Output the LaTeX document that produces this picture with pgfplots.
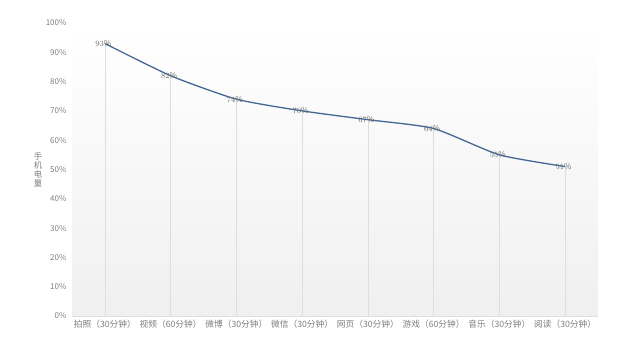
\documentclass[border=0pt]{standalone}
\usepackage{fontspec}
\setmainfont{Noto Sans CJK SC}
\usepackage{pgfplots}
\pgfplotsset{compat=1.18}
\definecolor{lineblue}{RGB}{68,104,148}
\definecolor{txtgray}{RGB}{125,125,125}
\definecolor{lblgray}{RGB}{105,105,105}
\definecolor{gridgray}{RGB}{222,222,222}
\begin{document}
\begin{tikzpicture}
\begin{axis}[
  scale only axis,
  width=526pt, height=293pt,
  xmin=-0.5, xmax=7.5, ymin=0, ymax=100,
  xtick={0,...,7},
  xticklabels={拍照（30分钟）,视频（60分钟）,微博（30分钟）,微信（30分钟）,网页（30分钟）,游戏（60分钟）,音乐（30分钟）,阅读（30分钟）},
  ytick={0,10,...,100},
  yticklabels={0\%,10\%,20\%,30\%,40\%,50\%,60\%,70\%,80\%,90\%,100\%},
  tick label style={font=\fontsize{8}{9}\selectfont, text=txtgray},
  xticklabel style={font=\fontsize{8.7}{9}\selectfont, yshift=-1pt},
  major tick length=0pt,
  axis x line*=bottom,
  axis y line*=left,
  x axis line style={draw=gridgray, line width=0.8pt, -},
  y axis line style={draw=none},
  yticklabel style={xshift=-2pt},
  ylabel={手\\机\\电\\量},
  ylabel style={rotate=-90, align=center, font=\fontsize{8.3}{9}\selectfont, text=txtgray, at={(rel axis cs:0,0.5)}, anchor=center, xshift=-34pt},
  axis background/.style={shade, top color=white, bottom color=black!6},
  clip=false,
]
\addplot[ycomb, draw=gridgray, line width=0.6pt, mark=none, forget plot] coordinates {
  (0,93) (1,82) (2,74) (3,70) (4,67) (5,64) (6,55) (7,51)};
\addplot[lineblue, line width=1.3pt, smooth, tension=0.35, mark=none,
  nodes near coords={\pgfmathprintnumber{\pgfplotspointmeta}\%},
  every node near coord/.style={anchor=center, font=\fontsize{8}{8}\selectfont, text=lblgray, xshift=-1.5pt}]
coordinates {
  (0,93) (1,82) (2,74) (3,70) (4,67) (5,64) (6,55) (7,51)};
\coordinate (sw) at (rel axis cs:0,0);
\coordinate (ne) at (rel axis cs:1,1);
\end{axis}
\pgfresetboundingbox
\useasboundingbox ([shift={(-72pt,-42pt)}]sw) rectangle ([shift={(42pt,23pt)}]ne);
\end{tikzpicture}
\end{document}
